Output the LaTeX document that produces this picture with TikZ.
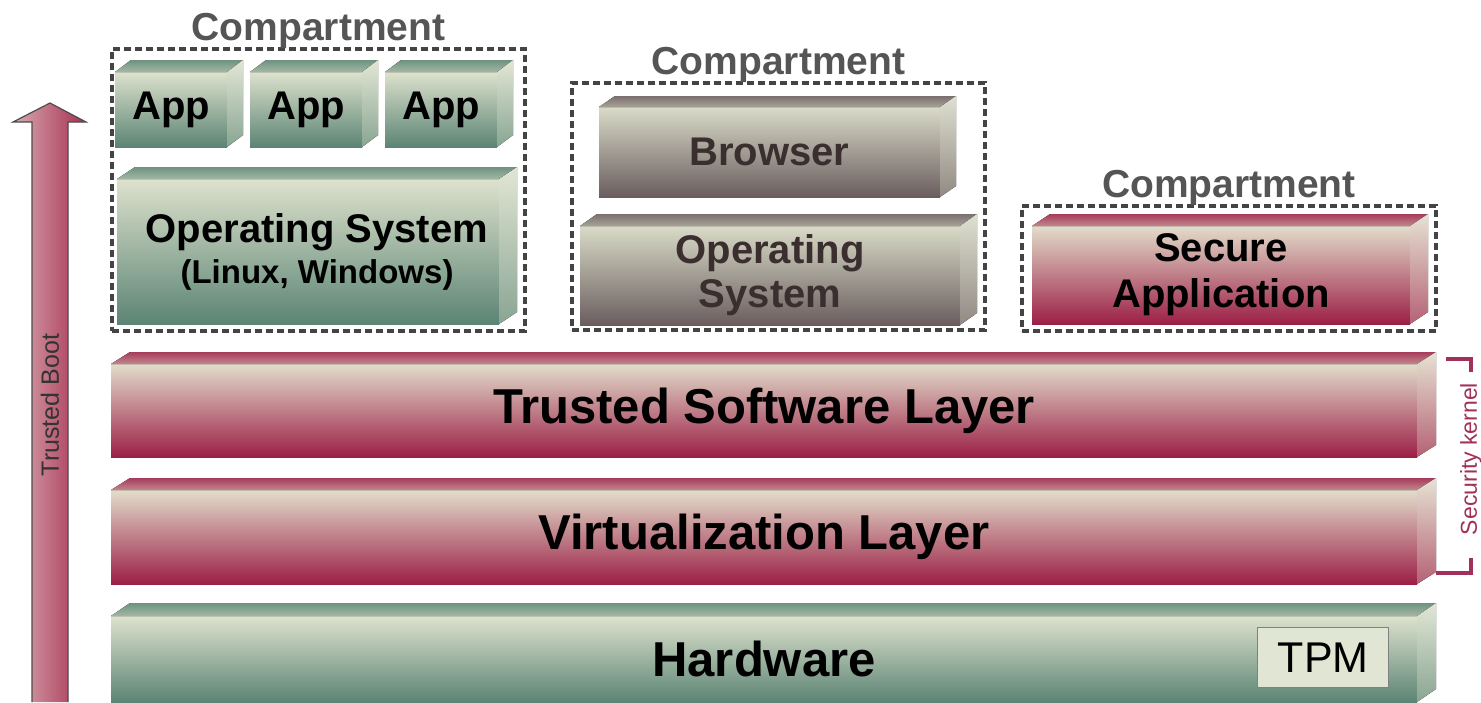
\documentclass[tikz,border=0pt]{standalone}
\usepackage{fontspec}
\setmainfont{Liberation Sans}
\usepackage{xcolor}
\usepackage{tikz}
\usetikzlibrary{positioning,shapes}
\definecolor{grnL}{HTML}{DDE2CD}
\definecolor{grnD}{HTML}{5C8474}
\definecolor{redL}{HTML}{E2DDCB}
\definecolor{redD}{HTML}{9C1F46}
\definecolor{gryL}{HTML}{D9DBC8}
\definecolor{gryD}{HTML}{6A5D5E}
\definecolor{dashgray}{HTML}{444444}
\definecolor{titlegray}{HTML}{555555}
\definecolor{browntext}{HTML}{3A2E2F}
\definecolor{kernelred}{HTML}{A0315A}
\definecolor{bootL}{HTML}{D6AAB0}
\definecolor{bootD}{HTML}{A83050}
\definecolor{tpmfill}{HTML}{E1E5D4}
\tikzset{
    slab/.style = {inner sep=0pt, outer sep=0pt, align=center, top color=#1L, bottom color=#1D,
                   font=\bfseries\fontsize{40}{44}\selectfont},
    layer/.style = {slab=#1, minimum width=1306, font=\bfseries\fontsize{49}{50}\selectfont},
    lid/.style = {top color=#1D!85!#1L, bottom color=#1D!45!#1L},
    flank/.style = {top color=#1L!85!white, bottom color=#1D!65!#1L},
    compart/.style = {draw=dashgray, line width=3.6pt, dash pattern=on 7pt off 4pt, inner sep=0pt, outer sep=0pt},
    ctitle/.style = {text=titlegray, inner sep=0pt, font=\bfseries\fontsize{39}{40}\selectfont},
    tpmbox/.style = {draw=gray, line width=1.4pt, fill=tpmfill, minimum width=131, minimum height=60,
                     inner sep=0pt, font=\fontsize{43}{43}\selectfont},
    bracket/.style = {kernelred, line width=4pt},
    sidetext/.style = {rotate=90, inner sep=0pt}
}
\begin{document}
\begin{tikzpicture}[x=1pt, y=-1pt]
        \useasboundingbox (0,0) rectangle (1481,702);

        % trusted boot arrow
        \draw[draw=gray!60!black, line width=1.2pt, left color=bootL, right color=bootD]
            (32,702) -- (32,122) -- (13,122) -- (50,103) -- (86,122) -- (68,122) -- (68,702);
        \node[sidetext, text=black!80, font=\fontsize{25}{25}\selectfont] (boot) at (50,405) {Trusted Boot};

        % compartments
        \node[compart, minimum width=413, minimum height=282, anchor=north west] (comp1) at (112,49) {};
        \node[compart, minimum width=413, minimum height=247, anchor=north west] (comp2) at (572,83) {};
        \node[compart, minimum width=414, minimum height=125, anchor=north west] (comp3) at (1022,206) {};
        \node[ctitle, above=0pt of comp1] (title1) {Compartment};
        \node[ctitle, above=0pt of comp2] (title2) {Compartment};
        \node[ctitle, above=0pt of comp3] (title3) {Compartment};

        \node[slab=grn, minimum width=112, minimum height=75, anchor=north west] (app1) at (115,72) {App};
        \node[slab=grn, minimum width=112, minimum height=75, right=23pt of app1] (app2) {App};
        \node[slab=grn, minimum width=112, minimum height=75, right=23pt of app2] (app3) {App};
        \node[slab=grn, minimum width=382, minimum height=145, anchor=north west] (oslinux) at (117,179)
            {\hspace*{18pt}Operating System\\[-3pt]\hspace*{18pt}{\fontsize{33}{36}\selectfont (Linux, Windows)}};

        \node[slab=gry, text=browntext, minimum width=341, minimum height=90, anchor=north west] (browser) at (599,107) {Browser};
        \node[slab=gry, text=browntext, minimum width=380, minimum height=99, anchor=north west] (osbrowser) at (580,226) {Operating\\System};

        \node[slab=red, minimum width=378, minimum height=98, anchor=north west] (secapp) at (1032,226)
            {Secure\\[2pt]Application};

        % layers
        \node[layer=red, minimum height=93, anchor=north west] (tsl) at (111,364) {Trusted Software Layer};
        \node[layer=red, minimum height=94, anchor=north west] (virt) at (111,490) {Virtualization Layer};
        \node[layer=grn, minimum height=86, anchor=north west] (hw) at (111,616) {Hardware};
        \node[tpmbox, anchor=north west] (tpm) at (1257,627) {TPM};

        % top and side faces
        \foreach \bx/\pal/\dx/\dy in {app1/grn/16/12, app2/grn/16/12, app3/grn/16/12, oslinux/grn/18/12,
                                      browser/gry/16/11, osbrowser/gry/17/12, secapp/red/18/12,
                                      tsl/red/19/12, virt/red/19/12, hw/grn/19/13}
        {
            \fill[lid/.expanded=\pal] (\bx.north west) -- ++(\dx,-\dy) -- ([shift={(\dx,-\dy)}]\bx.north east)
                -- (\bx.north east) -- cycle;
            \fill[flank/.expanded=\pal] (\bx.north east) -- ([shift={(\dx,-\dy)}]\bx.north east)
                -- ([shift={(\dx,-\dy)}]\bx.south east) -- (\bx.south east) -- cycle;
        }

        % security kernel bracket
        \coordinate (sk1) at (1446,359);
        \coordinate (sk2) at (1471,372);
        \coordinate (sk3) at (1471,558);
        \coordinate (sk4) at (1436,573);
        \draw[bracket] (sk1) -| (sk2);
        \draw[bracket] (sk3) |- (sk4);
        \node[sidetext, text=kernelred, font=\fontsize{23}{23}\selectfont] (kernel) at (1471,459) {Security kernel};
      \end{tikzpicture}
\end{document}
